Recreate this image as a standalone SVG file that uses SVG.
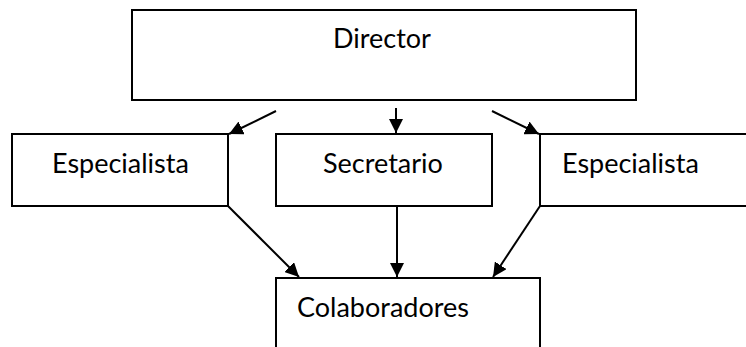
<svg xmlns="http://www.w3.org/2000/svg" width="746" height="347" viewBox="0 0 746 347">
<style>
.box{fill:#fff;stroke:#000;stroke-width:2}
.lbl{font-family:Lato,"Liberation Sans",sans-serif;font-size:27px;fill:#000}
.edge{stroke:#000;stroke-width:2;fill:none;marker-end:url(#ah)}
</style>
<defs>
<marker id="ah" markerUnits="userSpaceOnUse" markerWidth="15" markerHeight="14" refX="14" refY="7" orient="auto">
<path d="M0,0 L14,7 L0,14 Z" fill="#000"/>
</marker>
</defs>
<rect width="746" height="347" fill="#fff"/>
<g id="director"><rect class="box" x="132" y="10" width="504" height="90"/><text class="lbl" x="382" y="48" text-anchor="middle">Director</text></g>
<g id="especialista-left"><rect class="box" x="12" y="134" width="216" height="72"/><text class="lbl" x="52" y="173">Especialista</text></g>
<g id="secretario"><rect class="box" x="276" y="134" width="216" height="72"/><text class="lbl" x="323" y="173">Secretario</text></g>
<g id="especialista-right"><rect class="box" x="540" y="134" width="220" height="72"/><text class="lbl" x="562" y="173">Especialista</text></g>
<g id="colaboradores"><rect class="box" x="276" y="278" width="264" height="80"/><text class="lbl" x="297" y="317">Colaboradores</text></g>
<g id="connectors">
<line class="edge" x1="276" y1="111" x2="229" y2="134"/>
<line class="edge" x1="396" y1="108" x2="396" y2="133"/>
<line class="edge" x1="492" y1="111" x2="539" y2="134"/>
<line class="edge" x1="228" y1="206" x2="299" y2="277"/>
<line class="edge" x1="397" y1="206" x2="397" y2="277"/>
<line class="edge" x1="540" y1="206" x2="493" y2="277"/>
</g>
</svg>
